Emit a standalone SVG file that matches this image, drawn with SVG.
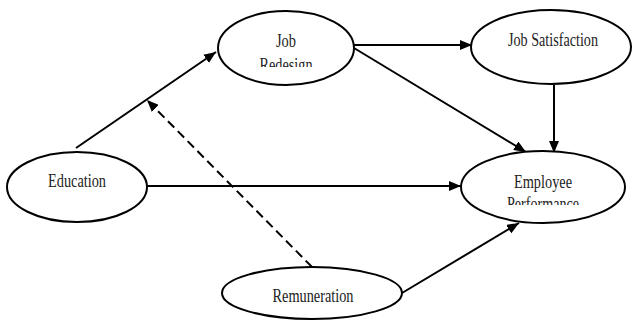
<svg xmlns="http://www.w3.org/2000/svg" width="632" height="320" viewBox="0 0 632 320">
<style>
.node{fill:#fff;stroke:#000;stroke-width:2}
.lbl{font-family:"Liberation Serif","Times New Roman",serif;font-size:19px;fill:#222;text-anchor:middle}
.edge{stroke:#000;stroke-width:2;fill:none}
.dash{stroke-dasharray:9 5}
</style>
<defs>
<marker id="ah" markerUnits="userSpaceOnUse" markerWidth="12" markerHeight="10" refX="12" refY="5" orient="auto">
<path d="M0,0 L12,5 L0,10 z" fill="#000"/>
</marker>
<clipPath id="cJR"><rect x="0" y="0" width="632" height="67"/></clipPath>
<clipPath id="cEP"><rect x="0" y="0" width="632" height="205"/></clipPath>
</defs>
<rect width="632" height="320" fill="#fff"/>
<g id="connectors">
<line class="edge" x1="76" y1="148" x2="216" y2="52" marker-end="url(#ah)"/>
<line class="edge dash" x1="312" y1="267" x2="147" y2="100" marker-end="url(#ah)"/>
<line class="edge" x1="147" y1="186" x2="461" y2="186" marker-end="url(#ah)"/>
<line class="edge" x1="354" y1="45" x2="472" y2="45" marker-end="url(#ah)"/>
<line class="edge" x1="354" y1="48" x2="526" y2="152" marker-end="url(#ah)"/>
<line class="edge" x1="554" y1="85" x2="554" y2="153" marker-end="url(#ah)"/>
<line class="edge" x1="402" y1="293" x2="519" y2="223" marker-end="url(#ah)"/>
</g>
<g id="job-redesign">
<ellipse class="node" cx="286" cy="48" rx="68" ry="37"/>
<text class="lbl" x="286" y="47" textLength="20" lengthAdjust="spacingAndGlyphs">Job</text>
<text class="lbl" x="286" y="71" textLength="53" lengthAdjust="spacingAndGlyphs" clip-path="url(#cJR)">Redesign</text>
</g>
<g id="job-satisfaction">
<ellipse class="node" cx="551" cy="47" rx="80" ry="37"/>
<text class="lbl" x="553" y="46" textLength="90" lengthAdjust="spacingAndGlyphs">Job Satisfaction</text>
</g>
<g id="education">
<ellipse class="node" cx="77" cy="187" rx="70" ry="35"/>
<text class="lbl" x="77" y="187" textLength="58" lengthAdjust="spacingAndGlyphs">Education</text>
</g>
<g id="employee-performance">
<ellipse class="node" cx="543" cy="187" rx="82" ry="36"/>
<text class="lbl" x="543" y="188" textLength="58" lengthAdjust="spacingAndGlyphs">Employee</text>
<text class="lbl" x="543" y="210" textLength="72" lengthAdjust="spacingAndGlyphs" clip-path="url(#cEP)">Performance</text>
</g>
<g id="remuneration">
<ellipse class="node" cx="312" cy="293" rx="90" ry="26"/>
<text class="lbl" x="313" y="302" textLength="81" lengthAdjust="spacingAndGlyphs">Remuneration</text>
</g>
</svg>
